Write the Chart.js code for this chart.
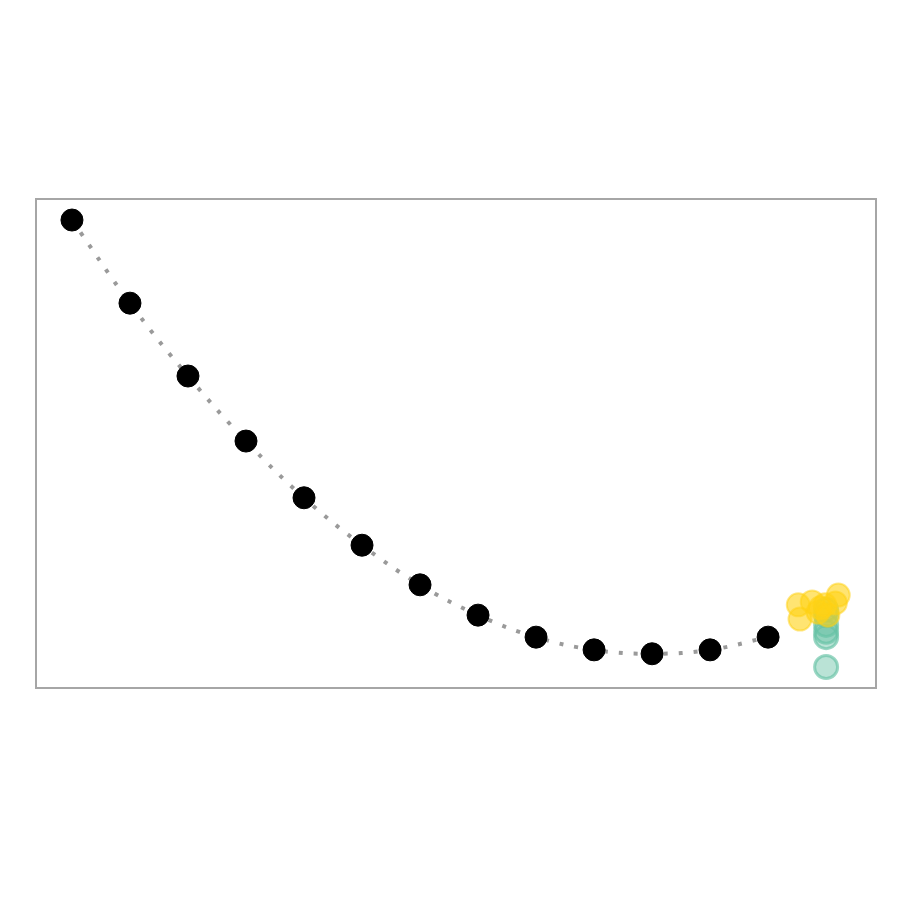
<!DOCTYPE html>
<html>
<head>
<meta charset="utf-8">
<script src="https://cdn.jsdelivr.net/npm/chart.js@4"></script>
<style>
  body { margin: 0; background: #fff; }
</style>
</head>
<body>
<canvas id="chart" width="900" height="900"></canvas>
<script>
// main path
const pathX = [0, 1, 2, 3, 4, 5, 6, 7, 8, 9, 10, 11, 12];
const pathY = [95.7, 78.7, 63.8, 50.5, 38.9, 29.2, 21.1, 14.9, 10.4, 7.8, 7.0, 7.8, 10.4];

// green cluster
const greenX = [13, 13, 13, 13, 13, 13];
const greenY = [4.3, 10.4, 11.5, 12.9, 14.9, 16.0];

// yellow cluster
const yellowX = [12.52, 12.55, 12.76, 12.86, 12.98, 13.03, 13.16, 13.21, 12.9];
const yellowY = [17.0, 14.1, 17.6, 15.5, 17.0, 14.9, 17.4, 19.0, 16.4];

const toPts = (xs, ys) => xs.map((x, i) => ({ x: x, y: ys[i] }));

const frame = {
  id: 'frame',
  afterDraw(chart) {
    const { ctx, chartArea: a } = chart;
    ctx.save();
    ctx.strokeStyle = '#a6a6a6';
    ctx.lineWidth = 2;
    ctx.strokeRect(a.left, a.top, a.right - a.left, a.bottom - a.top);
    ctx.restore();
  }
};

new Chart(document.getElementById('chart'), {
  type: 'scatter',
  data: {
    datasets: [
      {
        label: 'path',
        data: toPts(pathX, pathY),
        showLine: true,
        borderColor: '#9a9a9a',
        borderWidth: 4,
        borderDash: [4, 11],
        tension: 0.4,
        pointRadius: 11,
        pointBackgroundColor: '#000',
        pointBorderColor: '#000',
        pointBorderWidth: 1,
        order: 3
      },
      {
        label: 'green',
        data: toPts(greenX, greenY),
        pointRadius: 11.5,
        pointBackgroundColor: 'rgba(102,194,165,0.45)',
        pointBorderColor: 'rgba(102,194,165,0.65)',
        pointBorderWidth: 3,
        order: 2
      },
      {
        label: 'yellow',
        data: toPts(yellowX, yellowY),
        pointRadius: 11.5,
        pointBackgroundColor: 'rgba(255,210,20,0.6)',
        pointBorderColor: 'rgba(255,210,20,0.5)',
        pointBorderWidth: 2,
        order: 1
      }
    ]
  },
  options: {
    responsive: false,
    animation: false,
    clip: false,
    layout: { padding: { left: 36, right: 24, top: 199, bottom: 212 } },
    plugins: {
      legend: { display: false },
      tooltip: { enabled: false }
    },
    scales: {
      x: { type: 'linear', min: -0.62, max: 13.86, display: false },
      y: { type: 'linear', min: 0, max: 100, display: false }
    }
  },
  plugins: [frame]
});
</script>
</body>
</html>
